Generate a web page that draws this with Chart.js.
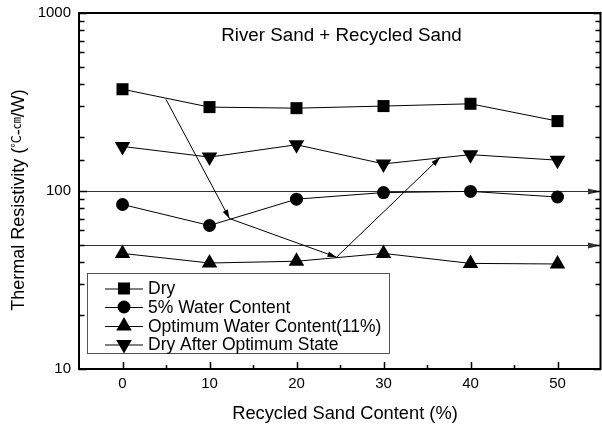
<!DOCTYPE html>
<html>
<head>
<meta charset="utf-8">
<script src="https://cdn.jsdelivr.net/npm/chart.js@4/dist/chart.umd.min.js"></script>
<style>
  html, body { margin: 0; padding: 0; background: #fff; }
  canvas { display: block; }
</style>
</head>
<body>
<canvas id="chart" width="602" height="428"></canvas>
<script>
// Recycled sand content (%) on the x axis
const recycledContent = [0, 10, 20, 30, 40, 50];

// Thermal resistivity (℃-cm/W) for each moisture condition
const dry         = [373, 296, 292, 300, 309, 247];
const water5      = [84, 64, 90, 98, 99.5, 92.5];
const optimum     = [44.6, 39.4, 40.3, 44.6, 39.2, 38.9];
const dryAfterOpt = [178, 155, 182, 142, 160, 149];

const seriesNames = ['Dry', '5% Water Content', 'Optimum Water Content(11%)', 'Dry After Optimum State'];

// Axis labels that are printed
const yLabelValues = [10, 100, 1000];
const xLabelValues = [0, 10, 20, 30, 40, 50];

// Horizontal reference levels (drawn as arrows across the plot)
const referenceLevels = [100, 50];

// Trend arrows: [x0, y0, x1, y1] in data units
const trendArrows = [
  [5, 327, 12.3, 70],
  [12.3, 70, 24.6, 42.5],
  [24.6, 42.5, 36.5, 154]
];

const FONT = "'Liberation Sans', Arial, 'Noto Sans CJK KR', sans-serif";
const CJK_FONT = "'Noto Sans CJK KR', 'Liberation Sans', sans-serif";

function toPoints(values) {
  return recycledContent.map((x, i) => ({ x: x, y: values[i] }));
}

function markerStyle(kind, rotation) {
  const radius = kind === 'rect' ? 8.5 : (kind === 'circle' ? 6.5 : 9);
  return {
    pointStyle: kind,
    pointRadius: radius,
    pointRotation: rotation,
    pointBackgroundColor: '#000',
    pointBorderColor: '#000',
    pointBorderWidth: 0,
    borderColor: '#000',
    borderWidth: 1,
    fill: false,
    tension: 0,
    clip: false
  };
}

const datasets = [
  Object.assign({ label: seriesNames[0], data: toPoints(dry) }, markerStyle('rect', 0)),
  Object.assign({ label: seriesNames[1], data: toPoints(water5) }, markerStyle('circle', 0)),
  Object.assign({ label: seriesNames[2], data: toPoints(optimum) }, markerStyle('triangle', 0)),
  Object.assign({ label: seriesNames[3], data: toPoints(dryAfterOpt) }, markerStyle('triangle', 180))
];

function arrowHead(ctx, x0, y0, x1, y1, len, half) {
  const a = Math.atan2(y1 - y0, x1 - x0);
  ctx.beginPath();
  ctx.moveTo(x1, y1);
  ctx.lineTo(x1 - len * Math.cos(a) + half * Math.sin(a), y1 - len * Math.sin(a) - half * Math.cos(a));
  ctx.lineTo(x1 - len * Math.cos(a) - half * Math.sin(a), y1 - len * Math.sin(a) + half * Math.cos(a));
  ctx.closePath();
  ctx.fill();
}

// Y-axis title with the unit symbols set small and raised
function drawYTitle(ctx, cx, cy) {
  const parts = [
    { t: 'Thermal Resistivity (', f: '18px ' + FONT, dy: 0 },
    { t: '℃', f: '12.5px ' + CJK_FONT, dy: -3 },
    { t: '-', f: '18px ' + FONT, dy: 0 },
    { t: '㎝', f: '12px ' + CJK_FONT, dy: -3 },
    { t: '/W)', f: '18px ' + FONT, dy: 0 }
  ];
  let total = 0;
  parts.forEach(p => { ctx.font = p.f; p.w = ctx.measureText(p.t).width; total += p.w; });
  ctx.save();
  ctx.translate(cx, cy);
  ctx.rotate(-Math.PI / 2);
  ctx.textAlign = 'left';
  ctx.textBaseline = 'alphabetic';
  let x = -total / 2;
  parts.forEach(p => {
    ctx.font = p.f;
    ctx.fillText(p.t, x, p.dy);
    x += p.w;
  });
  ctx.restore();
}

const decorations = {
  id: 'decorations',
  beforeDatasetsDraw(chart) {
    const ctx = chart.ctx;
    const xs = chart.scales.x, ys = chart.scales.y;
    const area = chart.chartArea;
    ctx.save();

    // reference levels with arrowheads at the right edge
    ctx.strokeStyle = '#333';
    ctx.fillStyle = '#333';
    ctx.lineWidth = 1.2;
    referenceLevels.forEach(v => {
      const y = Math.round(ys.getPixelForValue(v)) + 0.5;
      ctx.beginPath();
      ctx.moveTo(area.left, y);
      ctx.lineTo(area.right - 2, y);
      ctx.stroke();
      arrowHead(ctx, area.left, y, area.right - 1, y, 12, 3);
    });

    // trend arrows
    ctx.strokeStyle = '#000';
    ctx.fillStyle = '#000';
    ctx.lineWidth = 1;
    trendArrows.forEach(a => {
      const x0 = xs.getPixelForValue(a[0]), y0 = ys.getPixelForValue(a[1]);
      const x1 = xs.getPixelForValue(a[2]), y1 = ys.getPixelForValue(a[3]);
      ctx.beginPath();
      ctx.moveTo(x0, y0);
      ctx.lineTo(x1, y1);
      ctx.stroke();
      arrowHead(ctx, x0, y0, x1, y1, 9, 2.8);
    });
    ctx.restore();
  },
  afterDatasetsDraw(chart) {
    const ctx = chart.ctx;
    const xs = chart.scales.x, ys = chart.scales.y;
    const area = chart.chartArea;
    ctx.save();

    // plot frame
    ctx.strokeStyle = '#000';
    ctx.lineWidth = 2;
    ctx.strokeRect(area.left, area.top, area.right - area.left - 0.5, area.bottom - area.top);

    // inward tick marks on left/right (log) and bottom (linear)
    ctx.lineWidth = 1.5;
    ctx.beginPath();
    ys.ticks.forEach(t => {
      const y = Math.round(ys.getPixelForValue(t.value)) + 0.5;
      const major = yLabelValues.includes(t.value);
      const len = major ? 8 : 5.5;
      ctx.moveTo(area.left, y); ctx.lineTo(area.left + len, y);
      ctx.moveTo(area.right, y); ctx.lineTo(area.right - len, y);
    });
    xs.ticks.forEach(t => {
      if (t.value <= xs.min || t.value >= xs.max) return;
      const x = Math.round(xs.getPixelForValue(t.value)) + 0.5;
      const len = xLabelValues.includes(t.value) ? 7 : 4;
      ctx.moveTo(x, area.bottom); ctx.lineTo(x, area.bottom - len);
    });
    ctx.stroke();

    // chart heading
    ctx.fillStyle = '#000';
    ctx.font = '18.8px ' + FONT;
    ctx.textAlign = 'center';
    ctx.textBaseline = 'alphabetic';
    ctx.fillText('River Sand + Recycled Sand', 341.5, 41);

    // axis titles
    ctx.font = '18.3px ' + FONT;
    ctx.fillText('Recycled Sand Content (%)', 345, 419);
    drawYTitle(ctx, 24, 200);

    // legend
    const box = { x: 87.5, y: 273.5, w: 302, h: 80 };
    ctx.fillStyle = '#fff';
    ctx.fillRect(box.x, box.y, box.w, box.h);
    ctx.strokeStyle = '#555';
    ctx.lineWidth = 1;
    ctx.strokeRect(box.x, box.y, box.w, box.h);
    const rows = [288.5, 307, 326, 344.5];
    ctx.font = '17.5px ' + FONT;
    ctx.textAlign = 'left';
    ctx.textBaseline = 'middle';
    datasets.forEach((ds, i) => {
      const y = rows[i];
      ctx.strokeStyle = '#000';
      ctx.beginPath();
      ctx.moveTo(105, y + 0.5);
      ctx.lineTo(143, y + 0.5);
      ctx.stroke();
      ctx.fillStyle = '#000';
      Chart.helpers.drawPoint(ctx, {
        pointStyle: ds.pointStyle,
        radius: ds.pointRadius,
        rotation: ds.pointRotation,
        borderWidth: 0
      }, 124, y);
      ctx.fillStyle = '#000';
      ctx.fillText(ds.label, 148, y + 1);
    });

    ctx.restore();
  }
};

new Chart(document.getElementById('chart'), {
  type: 'line',
  data: { datasets: datasets },
  options: {
    responsive: false,
    animation: false,
    devicePixelRatio: 1,
    layout: { autoPadding: false, padding: { top: 13, right: 1, left: 0, bottom: 0 } },
    plugins: {
      legend: { display: false },
      tooltip: { enabled: false },
      title: { display: false }
    },
    scales: {
      x: {
        type: 'linear',
        min: -5,
        max: 55,
        afterFit: s => { s.height = 59; s.paddingLeft = 0; s.paddingRight = 0; },
        grid: { display: false, drawTicks: false },
        border: { display: false },
        ticks: {
          stepSize: 5,
          autoSkip: false,
          maxRotation: 0,
          padding: 6,
          color: '#000',
          font: { family: FONT, size: 15 },
          callback: v => xLabelValues.includes(v) ? String(v) : ''
        }
      },
      y: {
        type: 'logarithmic',
        min: 10,
        max: 1000,
        afterFit: s => { s.width = 79; s.paddingTop = 0; s.paddingBottom = 0; },
        grid: { display: false, drawTicks: false },
        border: { display: false },
        ticks: {
          autoSkip: false,
          padding: 8,
          color: '#000',
          font: { family: FONT, size: 15 },
          callback: v => yLabelValues.includes(v) ? String(v) : ''
        }
      }
    }
  },
  plugins: [decorations]
});
</script>
</body>
</html>
